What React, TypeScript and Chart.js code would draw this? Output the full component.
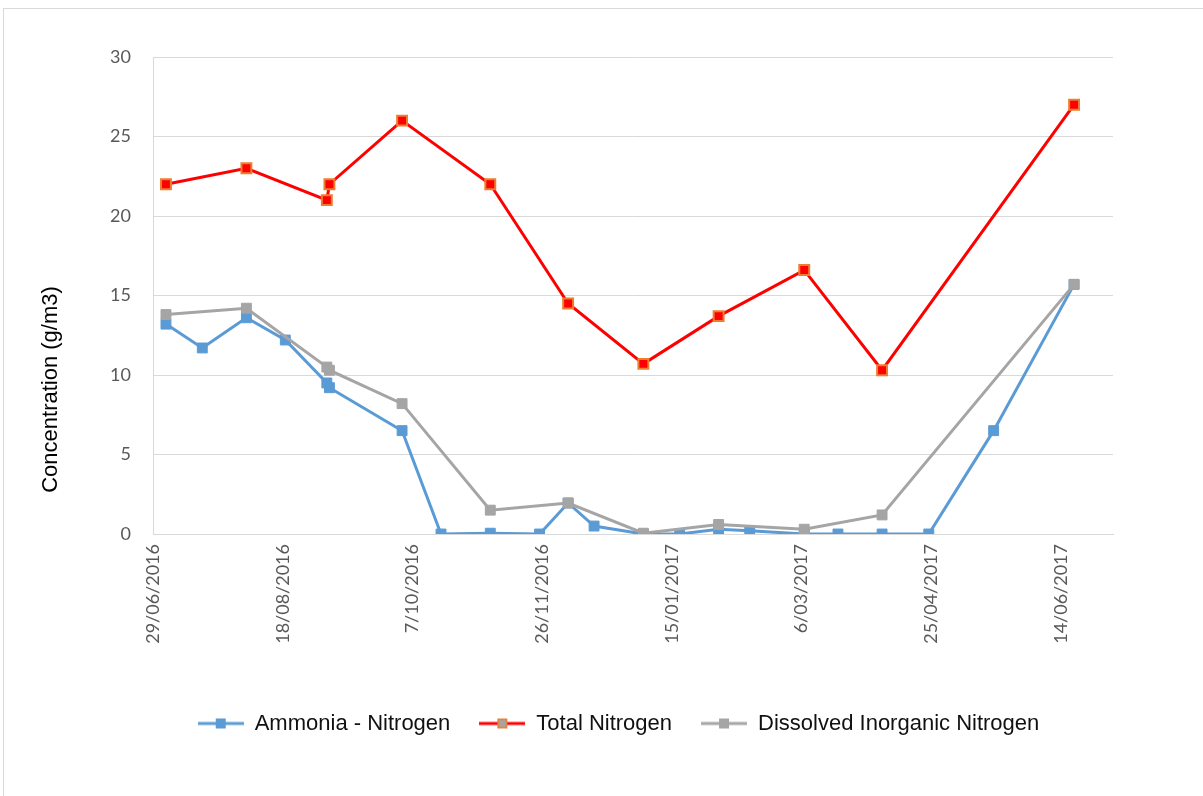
import React, { useEffect, useRef } from 'react';
import { Chart, registerables } from 'chart.js';

Chart.register(...registerables);

// Sampling dates and concentrations (g/m3)
const ammoniaDates = [
  '2016-07-04', '2016-07-18', '2016-08-04', '2016-08-19', '2016-09-04', '2016-09-05',
  '2016-10-03', '2016-10-18', '2016-11-06', '2016-11-25', '2016-12-06', '2016-12-16',
  '2017-01-04', '2017-01-18', '2017-02-02', '2017-02-14', '2017-03-07', '2017-03-20',
  '2017-04-06', '2017-04-24', '2017-05-19', '2017-06-19',
];
const ammoniaValues = [
  13.2, 11.7, 13.6, 12.2, 9.5, 9.2,
  6.5, 0, 0.05, 0, 1.95, 0.5,
  0, 0, 0.3, 0.2, 0, 0,
  0, 0, 6.5, 15.7,
];

const nitrogenDates = [
  '2016-07-04', '2016-08-04', '2016-09-04', '2016-09-05', '2016-10-03', '2016-11-06',
  '2016-12-06', '2017-01-04', '2017-02-02', '2017-03-07', '2017-04-06', '2017-06-19',
];
const totalNitrogenValues = [22, 23, 21, 22, 26, 22, 14.5, 10.7, 13.7, 16.6, 10.3, 27];
const dissolvedInorganicValues = [13.8, 14.2, 10.5, 10.3, 8.2, 1.5, 1.95, 0.05, 0.6, 0.3, 1.2, 15.7];

const seriesNames = ['Ammonia - Nitrogen', 'Total Nitrogen', 'Dissolved Inorganic Nitrogen'];
const yAxisTitle = 'Concentration (g/m3)';

// Date axis: days counted from the first tick, labelled every 50 days
const AXIS_START = '2016-06-29';
const AXIS_SPAN_DAYS = 370;
const TICK_STEP_DAYS = 50;
const Y_MAX = 30;
const Y_STEP = 5;

const DAY_MS = 86400000;
const utc = (s: string) => {
  const [y, m, d] = s.split('-').map(Number);
  return Date.UTC(y, m - 1, d);
};
const startMs = utc(AXIS_START);
const toDay = (s: string) => Math.round((utc(s) - startMs) / DAY_MS);
const formatDay = (v: number) => {
  const dt = new Date(startMs + v * DAY_MS);
  return `${dt.getUTCDate()}/${String(dt.getUTCMonth() + 1).padStart(2, '0')}/${dt.getUTCFullYear()}`;
};
const toPoints = (dates: string[], values: number[]) =>
  dates.map((d, i) => ({ x: toDay(d), y: values[i] }));

const BLUE = '#5B9BD5';
const RED = '#FF0000';
const ORANGE = '#ED7D31';
const GREY = '#A5A5A5';
const GRID = '#D9D9D9';
const TICK_TEXT = '#595959';

function legendIcon(line: string, fill: string, border: string) {
  const c = document.createElement('canvas');
  c.width = 46;
  c.height = 14;
  const g = c.getContext('2d')!;
  g.strokeStyle = line;
  g.lineWidth = 3;
  g.beginPath();
  g.moveTo(0, 7);
  g.lineTo(46, 7);
  g.stroke();
  g.fillStyle = fill;
  g.fillRect(18, 2, 10, 10);
  g.strokeStyle = border;
  g.lineWidth = 1.5;
  g.strokeRect(18.75, 2.75, 8.5, 8.5);
  return c;
}

// Axis title drawn below the middle of the value axis
const yTitlePlugin = {
  id: 'yTitleOffset',
  afterDraw(chart: any) {
    const { ctx, chartArea } = chart;
    ctx.save();
    ctx.translate(chartArea.left - 102, chartArea.top + (chartArea.bottom - chartArea.top) * 0.697);
    ctx.rotate(-Math.PI / 2);
    ctx.font = '22px "Liberation Sans", Arial, sans-serif';
    ctx.fillStyle = '#000000';
    ctx.textAlign = 'center';
    ctx.textBaseline = 'middle';
    ctx.fillText(yAxisTitle, 0, 0);
    ctx.restore();
  },
};

// Nudge the legend row to the right of the canvas centre
const legendShift = {
  id: 'legendShift',
  afterLayout(chart: any) {
    const lg = chart.legend;
    if (!lg) return;
    lg.left += 10;
    lg.right += 10;
  },
};

export default function App() {
  const canvasRef = useRef<HTMLCanvasElement | null>(null);

  useEffect(() => {
    if (!canvasRef.current) return;
    const icons = [
      legendIcon(BLUE, BLUE, BLUE),
      legendIcon(RED, GREY, ORANGE),
      legendIcon(GREY, GREY, GREY),
    ];
    const lineBase = {
      showLine: true,
      tension: 0,
      borderWidth: 3,
      pointStyle: 'rect',
      pointRadius: 7,
      pointHoverRadius: 7,
    };
    const chart = new Chart(canvasRef.current, {
      type: 'scatter',
      data: {
        datasets: [
          {
            ...lineBase,
            label: seriesNames[0],
            data: toPoints(ammoniaDates, ammoniaValues),
            borderColor: BLUE,
            backgroundColor: BLUE,
            pointBackgroundColor: BLUE,
            pointBorderColor: BLUE,
            pointBorderWidth: 1,
            order: 2,
          },
          {
            ...lineBase,
            label: seriesNames[1],
            data: toPoints(nitrogenDates, totalNitrogenValues),
            borderColor: RED,
            backgroundColor: RED,
            pointBackgroundColor: RED,
            pointBorderColor: ORANGE,
            pointBorderWidth: 2,
            order: 1,
          },
          {
            ...lineBase,
            label: seriesNames[2],
            data: toPoints(nitrogenDates, dissolvedInorganicValues),
            borderColor: GREY,
            backgroundColor: GREY,
            pointBackgroundColor: GREY,
            pointBorderColor: GREY,
            pointBorderWidth: 1,
            order: 0,
          },
        ] as any,
      },
      options: {
        responsive: false,
        animation: false,
        layout: { padding: { left: 100, top: 48, right: 90, bottom: 51.5 } },
        scales: {
          x: {
            type: 'linear',
            min: 0,
            max: AXIS_SPAN_DAYS,
            afterFit: (s: any) => {
              s.height = 149.5;
            },
            grid: { display: false, drawTicks: false },
            border: { display: true, color: GRID, width: 1 },
            ticks: {
              stepSize: TICK_STEP_DAYS,
              includeBounds: false,
              autoSkip: false,
              maxRotation: 90,
              minRotation: 90,
              padding: 10,
              color: TICK_TEXT,
              font: { family: 'Lato', size: 18 },
              callback: (v: any) => formatDay(Number(v)),
            },
          },
          y: {
            min: 0,
            max: Y_MAX,
            afterFit: (s: any) => {
              s.width = 49;
            },
            grid: { color: GRID, lineWidth: 1, drawTicks: false },
            border: { display: true, color: GRID, width: 1 },
            ticks: {
              stepSize: Y_STEP,
              padding: 22,
              color: TICK_TEXT,
              font: { family: 'Lato', size: 18 },
            },
          },
        },
        plugins: {
          tooltip: { enabled: false },
          legend: {
            position: 'bottom',
            labels: {
              usePointStyle: true,
              pointStyleWidth: 46,
              padding: 29,
              color: '#111111',
              font: { family: '"Liberation Sans", Arial, sans-serif', size: 22 },
              sort: (a: any, b: any) => a.datasetIndex - b.datasetIndex,
              generateLabels: (ch: any) => {
                const items = Chart.defaults.plugins.legend.labels.generateLabels(ch);
                return items.map((it: any) => ({
                  ...it,
                  pointStyle: icons[it.datasetIndex],
                  lineWidth: 0,
                }));
              },
            },
          },
        },
      } as any,
      plugins: [yTitlePlugin, legendShift],
    });
    return () => chart.destroy();
  }, []);

  return (
    <div
      style={{
        position: 'fixed',
        left: 3,
        top: 8,
        width: 1200,
        height: 788,
        boxSizing: 'border-box',
        borderTop: `1px solid ${GRID}`,
        borderLeft: `1px solid ${GRID}`,
        background: '#ffffff',
      }}
    >
      <canvas ref={canvasRef} width={1199} height={787} style={{ display: 'block' }} />
    </div>
  );
}
